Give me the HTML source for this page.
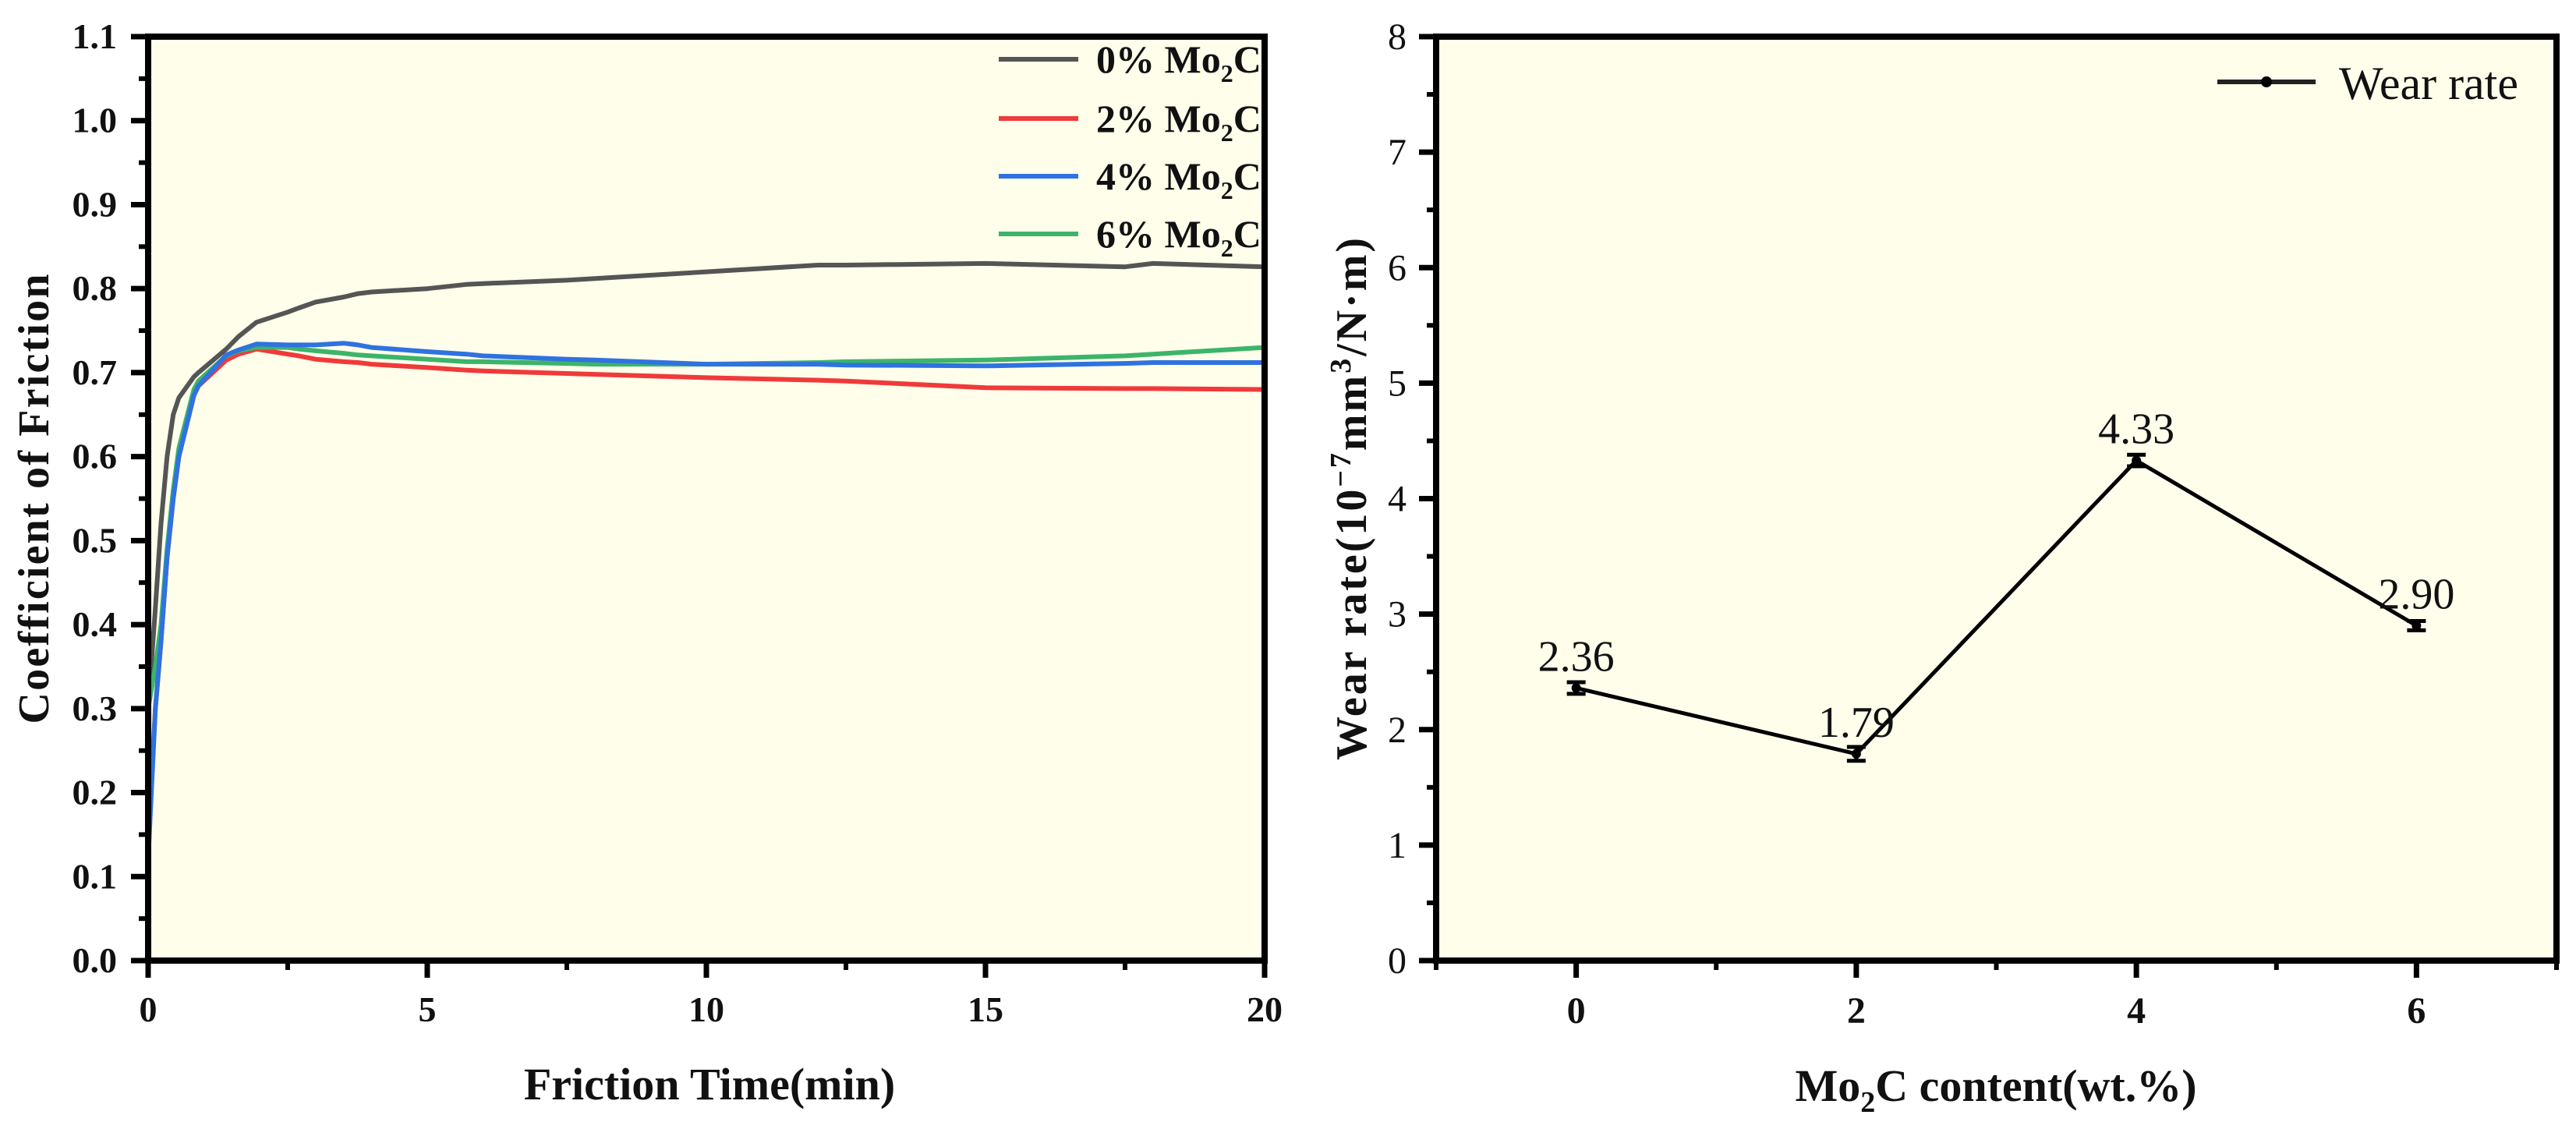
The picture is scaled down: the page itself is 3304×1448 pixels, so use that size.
<!DOCTYPE html>
<html><head><meta charset="utf-8"><style>
html,body{margin:0;padding:0;background:#fff;}
svg{display:block;}
text{font-family:"Liberation Serif",serif;fill:#111;}
</style></head>
<body>
<svg id="fig" width="3304" height="1448" viewBox="0 0 3304 1448" xmlns="http://www.w3.org/2000/svg">
<g id="left"></g>
<g id="right"></g>
</svg>
<script>
// ---- Left chart data (coefficient of friction vs time) ----
const timeMin = [0, 0.13, 0.23, 0.34, 0.45, 0.55, 0.82, 0.9, 1.4, 1.62, 1.94, 2.5, 2.7, 3, 3.5, 3.76, 4, 5, 5.7, 6, 7.5, 8, 10, 12, 12.5, 15, 17.5, 18, 20];
const cof0 = [0.3, 0.42, 0.52, 0.6, 0.65, 0.67, 0.695, 0.70, 0.728, 0.743, 0.76, 0.772, 0.777, 0.784, 0.79, 0.794, 0.796, 0.80, 0.805, 0.806, 0.81, 0.812, 0.82, 0.828, 0.828, 0.83, 0.826, 0.83, 0.826];
const cof2 = [0.15, 0.3, 0.38, 0.48, 0.55, 0.6, 0.673, 0.684, 0.715, 0.722, 0.728, 0.722, 0.72, 0.716, 0.713, 0.712, 0.71, 0.706, 0.703, 0.702, 0.699, 0.698, 0.694, 0.691, 0.69, 0.682, 0.681, 0.681, 0.68];
const cof4 = [0.12, 0.3, 0.38, 0.48, 0.55, 0.6, 0.673, 0.684, 0.721, 0.727, 0.734, 0.733, 0.733, 0.733, 0.735, 0.733, 0.73, 0.725, 0.722, 0.72, 0.716, 0.715, 0.71, 0.71, 0.709, 0.708, 0.711, 0.712, 0.712];
const cof6 = [0.3, 0.35, 0.4, 0.49, 0.56, 0.61, 0.68, 0.69, 0.72, 0.726, 0.73, 0.73, 0.728, 0.726, 0.723, 0.721, 0.72, 0.716, 0.713, 0.713, 0.711, 0.71, 0.71, 0.712, 0.713, 0.715, 0.72, 0.722, 0.73];
const seriesNames = ["0% Mo", "2% Mo", "4% Mo", "6% Mo"];
const seriesColors = ["#555555", "#f03a3a", "#2f72e0", "#3cb46a"];
const xTicksL = [0, 5, 10, 15, 20];
const yTicksL = [0.0, 0.1, 0.2, 0.3, 0.4, 0.5, 0.6, 0.7, 0.8, 0.9, 1.0, 1.1];

// ---- Right chart data (wear rate) ----
const contents = [0, 2, 4, 6];
const wearRate = [2.36, 1.79, 4.33, 2.90];
const wearErr = [0.05, 0.06, 0.05, 0.04];
const wearLabels = ["2.36", "1.79", "4.33", "2.90"];
const xTicksR = [0, 2, 4, 6];
const yTicksR = [0, 1, 2, 3, 4, 5, 6, 7, 8];

const NS = "http://www.w3.org/2000/svg";
function mk(parent, tag, attrs, txt) {
  const e = document.createElementNS(NS, tag);
  for (const k in attrs) e.setAttribute(k, attrs[k]);
  if (txt !== undefined) e.textContent = txt;
  parent.appendChild(e);
  return e;
}

// Left axes
const L = {x0:190, x1:1622, y0:1232, y1:47};
const lx = t => L.x0 + (t - 0) / 20 * (L.x1 - L.x0);
const ly = v => L.y0 - (v - 0) / 1.1 * (L.y0 - L.y1);
const gl = document.getElementById('left');

let bg = mk(gl, 'rect', {x:L.x0, y:L.y1, width:L.x1-L.x0, height:L.y0-L.y1, fill:'#fefeeb'});



const cofSeries = [cof0, cof2, cof4, cof6];
const drawOrder = [0, 1, 3, 2];
drawOrder.forEach(si => {
  const vals = cofSeries[si];
  const d = timeMin.map((t, i) => (i ? 'L' : 'M') + lx(t).toFixed(1) + ',' + ly(vals[i]).toFixed(1)).join(' ');
  const p = mk(gl, 'path', {d:d, fill:'none', stroke:seriesColors[si], 'stroke-width':6, 'stroke-linejoin':'round'});
  
  
});

// frame
mk(gl, 'rect', {x:L.x0, y:L.y1, width:L.x1-L.x0, height:L.y0-L.y1, fill:'none', stroke:'#000', 'stroke-width':8});

// y ticks left
yTicksL.forEach(v => {
  const y = ly(v);
  mk(gl, 'line', {x1:L.x0-22, x2:L.x0, y1:y, y2:y, stroke:'#000', 'stroke-width':7});
  const t = mk(gl, 'text', {x:L.x0-40, y:y+15, 'text-anchor':'end', 'font-size':46, 'font-weight':'bold'}, v.toFixed(1));
  
  
  if (v < 1.1) { const m = ly(v + 0.05); mk(gl, 'line', {x1:L.x0-12, x2:L.x0, y1:m, y2:m, stroke:'#000', 'stroke-width':6}); }
});
// x ticks left
xTicksL.forEach(v => {
  const x = lx(v);
  mk(gl, 'line', {x1:x, x2:x, y1:L.y0, y2:L.y0+22, stroke:'#000', 'stroke-width':7});
  const t = mk(gl, 'text', {x:x, y:L.y0+78, 'text-anchor':'middle', 'font-size':46, 'font-weight':'bold'}, String(v));
  
  
  if (v < 20) { const m = lx(v + 2.5); mk(gl, 'line', {x1:m, x2:m, y1:L.y0, y2:L.y0+12, stroke:'#000', 'stroke-width':6}); }
});

// axis titles left
let xt = mk(gl, 'text', {x:910, y:1410, 'text-anchor':'middle', 'font-size':58, 'font-weight':'bold'}, 'Friction Time(min)');


let yt = mk(gl, 'text', {x:0, y:0, 'text-anchor':'middle', 'font-size':56, 'font-weight':'bold', transform:'translate(62,640) rotate(-90)', textLength:577, lengthAdjust:'spacing'}, 'Coefficient of Friction');



// legend left
const legY = [76, 152, 226, 300];
seriesNames.forEach((n, i) => {
  const g = mk(gl, 'g', {});
  
  
  mk(g, 'line', {x1:1281, x2:1383, y1:legY[i], y2:legY[i], stroke:seriesColors[i], 'stroke-width':6});
  const t = mk(g, 'text', {x:1406, y:legY[i]+17, 'font-size':50, 'font-weight':'bold'});
  t.appendChild(document.createTextNode(n));
  const s = mk(t, 'tspan', {'font-size':32, dy:12}, '2');
  mk(t, 'tspan', {dy:-12}, 'C');
});

// Right axes
const R = {x0:1842, x1:3279, y0:1232, y1:47};
const rx = v => R.x0 + (v - (-1)) / 8 * (R.x1 - R.x0);
const ry = v => R.y0 - v / 8 * (R.y0 - R.y1);
const gr = document.getElementById('right');
let bg2 = mk(gr, 'rect', {x:R.x0, y:R.y1, width:R.x1-R.x0, height:R.y0-R.y1, fill:'#fefeeb'});



const dline = contents.map((c, i) => (i ? 'L' : 'M') + rx(c).toFixed(1) + ',' + ry(wearRate[i]).toFixed(1)).join(' ');
const wl = mk(gr, 'path', {d:dline, fill:'none', stroke:'#000', 'stroke-width':5});


contents.forEach((c, i) => {
  const x = rx(c), y = ry(wearRate[i]), e = wearErr[i];
  const eb = mk(gr, 'path', {d:`M${x-12},${ry(wearRate[i]+e)} H${x+12} M${x},${ry(wearRate[i]+e)} V${ry(wearRate[i]-e)} M${x-12},${ry(wearRate[i]-e)} H${x+12}`, stroke:'#000', 'stroke-width':5, fill:'none'});
  
  
  const pt = mk(gr, 'circle', {cx:x, cy:y, r:6, fill:'#000'});
  
  
  const lb = mk(gr, 'text', {x:x, y:y-22, 'text-anchor':'middle', 'font-size':56}, wearLabels[i]);
  
  
});

mk(gr, 'rect', {x:R.x0, y:R.y1, width:R.x1-R.x0, height:R.y0-R.y1, fill:'none', stroke:'#000', 'stroke-width':8});
yTicksR.forEach(v => {
  const y = ry(v);
  mk(gr, 'line', {x1:R.x0-22, x2:R.x0, y1:y, y2:y, stroke:'#000', 'stroke-width':7});
  const t = mk(gr, 'text', {x:R.x0-38, y:y+16, 'text-anchor':'end', 'font-size':48}, String(v));
  
  
  if (v < 8) { const m = ry(v + 0.5); mk(gr, 'line', {x1:R.x0-12, x2:R.x0, y1:m, y2:m, stroke:'#000', 'stroke-width':6}); }
});
xTicksR.forEach(v => {
  const x = rx(v);
  mk(gr, 'line', {x1:x, x2:x, y1:R.y0, y2:R.y0+22, stroke:'#000', 'stroke-width':7});
  const t = mk(gr, 'text', {x:x, y:R.y0+80, 'text-anchor':'middle', 'font-size':48, 'font-weight':'bold'}, String(v));
  
  
});
[-1, 1, 3, 5, 7].forEach(v => { const m = rx(v); mk(gr, 'line', {x1:m, x2:m, y1:R.y0, y2:R.y0+12, stroke:'#000', 'stroke-width':6}); });

let xt2 = mk(gr, 'text', {x:2560, y:1412, 'text-anchor':'middle', 'font-size':58, 'font-weight':'bold'});


xt2.appendChild(document.createTextNode('Mo'));
mk(xt2, 'tspan', {'font-size':38, dy:14}, '2');
mk(xt2, 'tspan', {dy:-14}, 'C content(wt.%)');

let yt2 = mk(gr, 'text', {x:0, y:0, 'text-anchor':'middle', 'font-size':56, 'font-weight':'bold', transform:'translate(1752,640) rotate(-90)', textLength:670, lengthAdjust:'spacing'});


yt2.appendChild(document.createTextNode('Wear rate(10'));
mk(yt2, 'tspan', {'font-size':38, dy:-20}, '−7');
mk(yt2, 'tspan', {dy:20}, 'mm');
mk(yt2, 'tspan', {'font-size':38, dy:-20}, '3');
mk(yt2, 'tspan', {dy:20}, '/N·m)');

const lg = mk(gr, 'g', {});


mk(lg, 'line', {x1:2844, x2:2970, y1:105, y2:105, stroke:'#222', 'stroke-width':6});
mk(lg, 'circle', {cx:2907, cy:105, r:7, fill:'#000'});
mk(lg, 'text', {x:3000, y:127, 'font-size':60}, 'Wear rate');
</script>
</body></html>
